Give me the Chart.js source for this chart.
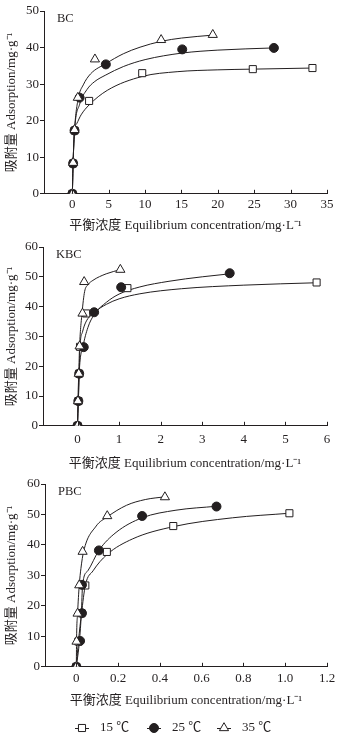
<!DOCTYPE html>
<html>
<head>
<meta charset="utf-8">
<script src="https://cdn.jsdelivr.net/npm/chart.js@4/dist/chart.umd.min.js"></script>
<style>
  html, body { margin: 0; padding: 0; background: #fff; }
  #wrap { position: relative; width: 342px; height: 737px; overflow: hidden; }
  canvas { position: absolute; left: 0; }
</style>
</head>
<body>
<div id="wrap">
  <canvas id="bc" width="342" height="237" style="top:0px"></canvas>
  <canvas id="kbc" width="342" height="243" style="top:232px"></canvas>
  <canvas id="pbc" width="342" height="267" style="top:470px"></canvas>
</div>
<script>
// series names (legend)
const seriesLabels = ['15 ℃', '25 ℃', '35 ℃'];

// BC: measured points [concentration, adsorption]
const bc15 = [[0, 0], [0.1, 8.3], [0.3, 17.3], [2.3, 25.4], [9.6, 33.0], [24.8, 34.1], [33.0, 34.4]];
const bc25 = [[0, 0], [0.1, 8.3], [0.3, 17.3], [1.0, 26.3], [4.6, 35.4], [15.1, 39.5], [27.7, 39.9]];
const bc35 = [[0, 0], [0.1, 8.5], [0.3, 17.5], [0.75, 26.3], [3.1, 36.8], [12.2, 42.1], [19.3, 43.5]];
// BC: fitted curves
const bc15Fit = [[0, 0], [0.1, 8.3], [0.3, 17.3], [0.6, 19.2], [1.2, 21.6], [2.3, 24.3], [4.8, 28.3], [9.6, 32.1], [14.4, 33.4], [19.9, 33.9], [24.8, 34.1], [33.0, 34.4]];
const bc25Fit = [[0, 0], [0.1, 8.3], [0.3, 17.3], [1.0, 24.5], [2.0, 28.5], [3.0, 30.6], [4.6, 32.5], [7, 34.8], [10, 36.7], [15.1, 38.5], [20, 39.3], [27.7, 39.9]];
const bc35Fit = [[0, 0], [0.1, 8.5], [0.3, 17.5], [0.8, 26], [1.5, 29.8], [2.5, 32.8], [4.6, 35.6], [7, 38.3], [9.3, 40.1], [12.2, 41.7], [15, 42.6], [19.3, 43.4]];
const bcXTicks = [0, 5, 10, 15, 20, 25, 30, 35];
const bcYTicks = [0, 10, 20, 30, 40, 50];

// KBC
const kbc15 = [[0, 0], [0.02, 8.3], [0.04, 17.5], [0.06, 26.5], [0.21, 37.7], [1.2, 46.2], [5.75, 48.1]];
const kbc25 = [[0, 0], [0.02, 8.3], [0.04, 17.5], [0.15, 26.4], [0.40, 38.1], [1.05, 46.5], [3.66, 51.2]];
const kbc35 = [[0, 0], [0.01, 8.3], [0.03, 17.5], [0.05, 26.7], [0.12, 37.7], [0.16, 48.3], [1.03, 52.4]];
const kbc15Fit = [[0, 0], [0.02, 8.3], [0.04, 17.5], [0.06, 26.5], [0.12, 31.5], [0.2, 34.8], [0.4, 38], [0.7, 40.8], [1.0, 42.6], [1.5, 44.3], [2.5, 46], [4.0, 47.2], [5.75, 48]];
const kbc25Fit = [[0, 0], [0.02, 8.3], [0.04, 17.5], [0.13, 26.4], [0.25, 33], [0.4, 37.3], [0.7, 41.5], [1.0, 44.2], [1.5, 46.6], [2.2, 48.5], [3.0, 50], [3.66, 51]];
const kbc35Fit = [[0, 0], [0.01, 8.3], [0.03, 17.5], [0.05, 26.7], [0.11, 38], [0.17, 45], [0.25, 47.3], [0.37, 48.8], [0.69, 51], [1.03, 52.4]];
const kbcXTicks = [0, 1, 2, 3, 4, 5, 6];
const kbcYTicks = [0, 10, 20, 30, 40, 50, 60];

// PBC
const pbc15 = [[0, 0], [0.01, 8.3], [0.025, 17.6], [0.043, 26.7], [0.146, 37.7], [0.464, 46.2], [1.02, 50.4]];
const pbc25 = [[0, 0], [0.018, 8.5], [0.027, 17.6], [0.027, 26.9], [0.108, 38.2], [0.315, 49.5], [0.671, 52.6]];
const pbc35 = [[0, 0], [0.001, 8.3], [0.006, 17.5], [0.014, 26.8], [0.03, 37.8], [0.148, 49.5], [0.424, 55.7]];
const pbc15Fit = [[0, 0], [0.01, 8.3], [0.025, 17.6], [0.043, 26.7], [0.08, 31.5], [0.146, 36.8], [0.27, 42], [0.464, 46], [0.747, 48.9], [1.02, 50.4]];
const pbc25Fit = [[0, 0], [0.015, 8.5], [0.024, 17.6], [0.03, 26.9], [0.055, 31.5], [0.108, 38.2], [0.19, 44.1], [0.315, 48.9], [0.477, 51.4], [0.671, 52.7]];
const pbc35Fit = [[0, 0], [0.001, 8.3], [0.006, 17.5], [0.014, 26.8], [0.022, 32.3], [0.035, 37.9], [0.095, 46.2], [0.148, 49.2], [0.24, 53.0], [0.33, 54.9], [0.424, 55.8]];
const pbcXTicks = [0, 0.2, 0.4, 0.6, 0.8, 1.0, 1.2];
const pbcYTicks = [0, 10, 20, 30, 40, 50, 60];

const ink = '#231f20';
const serif = '"Liberation Serif", "Noto Sans CJK SC", serif';
const xTitle = '平衡浓度 Equilibrium concentration/mg·L⁻¹';
const yTitle = '吸附量 Adsorption/mg·g⁻¹';

const markerStyles = [
    { pointStyle: 'rect', radius: 5, bg: '#fff' },
    { pointStyle: 'circle', radius: 4.5, bg: ink },
    { pointStyle: 'triangle', radius: 5.3, bg: '#fff' }
];

const pts = arr => arr.map(p => ({ x: p[0], y: p[1] }));

// inward ticks on x axis + panel name (+ legend on the last panel)
const panelDecor = {
    id: 'panelDecor',
    afterDraw(chart, args, opts) {
        const ctx = chart.ctx;
        const xs = chart.scales.x;
        const area = chart.chartArea;
        ctx.save();
        ctx.strokeStyle = ink;
        ctx.lineWidth = 1;
        xs.ticks.forEach(t => {
            const px = Math.round(xs.getPixelForValue(t.value)) + 0.5;
            ctx.beginPath();
            ctx.moveTo(px, area.bottom);
            ctx.lineTo(px, area.bottom - 4);
            ctx.stroke();
        });
        ctx.fillStyle = ink;
        ctx.font = '12.5px ' + serif;
        ctx.textBaseline = 'middle';
        ctx.textAlign = 'left';
        ctx.fillText(opts.name, area.left + 13, area.top + 8);

        if (opts.legend) {
            const y = opts.legendY;
            opts.legendX.forEach((cx, i) => {
                const st = markerStyles[i];
                ctx.strokeStyle = ink;
                ctx.beginPath();
                ctx.moveTo(cx - 7, y + 0.5);
                ctx.lineTo(cx + 7, y + 0.5);
                ctx.stroke();
                ctx.fillStyle = st.bg;
                ctx.strokeStyle = ink;
                Chart.helpers.drawPoint(ctx, { pointStyle: st.pointStyle, radius: st.radius, borderWidth: 1, rotation: 0 }, cx, y);
                ctx.fillStyle = ink;
                ctx.font = '13px ' + serif;
                ctx.fillText(seriesLabels[i], cx + 18, y);
            });
        }
        ctx.restore();
    }
};

function makePanel(p) {
    const datasets = [];
    p.fits.forEach((f, i) => {
        datasets.push({
            label: seriesLabels[i] + ' fit',
            data: pts(f),
            showLine: true,
            pointRadius: 0,
            borderColor: ink,
            borderWidth: 1,
            cubicInterpolationMode: 'monotone',
            fill: false,
            order: 3
        });
    });
    p.markers.forEach((m, i) => {
        const st = markerStyles[i];
        datasets.push({
            label: seriesLabels[i],
            data: pts(m),
            showLine: false,
            pointStyle: st.pointStyle,
            pointRadius: st.radius,
            pointBackgroundColor: st.bg,
            pointBorderColor: ink,
            pointBorderWidth: 1,
            order: 2 - i
        });
    });

    new Chart(document.getElementById(p.id), {
        type: 'scatter',
        data: { datasets: datasets },
        options: {
            responsive: false,
            animation: false,
            events: [],
            layout: { padding: { top: p.padTop, right: 15, bottom: p.padBottom, left: 0 } },
            plugins: {
                legend: { display: false },
                tooltip: { enabled: false },
                panelDecor: { name: p.name, legend: !!p.legend, legendX: [82, 154, 224], legendY: 258 }
            },
            scales: {
                x: {
                    type: 'linear',
                    min: p.xMin,
                    max: p.xMax,
                    afterBuildTicks: s => { s.ticks = p.xTicks.map(v => ({ value: v })); },
                    grid: { display: false, drawTicks: false },
                    border: { display: true, color: ink, width: 1 },
                    ticks: {
                        color: ink,
                        padding: p.xTickPad,
                        font: { family: serif, size: 13 },
                        maxRotation: 0,
                        callback: p.xFmt || (v => String(v))
                    },
                    title: {
                        display: true,
                        text: xTitle,
                        color: ink,
                        font: { family: serif, size: 13 },
                        padding: { top: p.xTitlePad, bottom: 4 }
                    }
                },
                y: {
                    type: 'linear',
                    min: 0,
                    max: p.yMax,
                    afterBuildTicks: s => { s.ticks = p.yTicks.map(v => ({ value: v })); },
                    afterFit: s => { s.width = p.yWidth; },
                    grid: { display: true, drawOnChartArea: false, drawTicks: true, tickLength: 4, color: ink },
                    border: { display: true, color: ink, width: 1 },
                    ticks: {
                        color: ink,
                        padding: 1,
                        font: { family: serif, size: 13 }
                    },
                    title: {
                        display: true,
                        text: yTitle,
                        color: ink,
                        font: { family: serif, size: 13 },
                        padding: { top: 4, bottom: 4 }
                    }
                }
            }
        },
        plugins: [panelDecor]
    });
}

makePanel({
    id: 'bc', name: 'BC',
    markers: [bc15, bc25, bc35], fits: [bc15Fit, bc25Fit, bc35Fit],
    xTicks: bcXTicks, yTicks: bcYTicks, xMin: -3.9, xMax: 35, yMax: 50,
    yWidth: 44, padTop: 11, padBottom: 0, xTickPad: 3, xTitlePad: 2
});
makePanel({
    id: 'kbc', name: 'KBC',
    markers: [kbc15, kbc25, kbc35], fits: [kbc15Fit, kbc25Fit, kbc35Fit],
    xTicks: kbcXTicks, yTicks: kbcYTicks, xMin: -0.83, xMax: 6, yMax: 60,
    yWidth: 43, padTop: 15, padBottom: 0, xTickPad: 6, xTitlePad: 2
});
makePanel({
    id: 'pbc', name: 'PBC',
    markers: [pbc15, pbc25, pbc35], fits: [pbc15Fit, pbc25Fit, pbc35Fit],
    xTicks: pbcXTicks, yTicks: pbcYTicks, xMin: -0.15, xMax: 1.2, yMax: 60,
    yWidth: 45, padTop: 14, padBottom: 25, xTickPad: 3.5, xTitlePad: 3,
    xFmt: v => (v === 0 ? '0' : v.toFixed(1)),
    legend: true
});
</script>
</body>
</html>
